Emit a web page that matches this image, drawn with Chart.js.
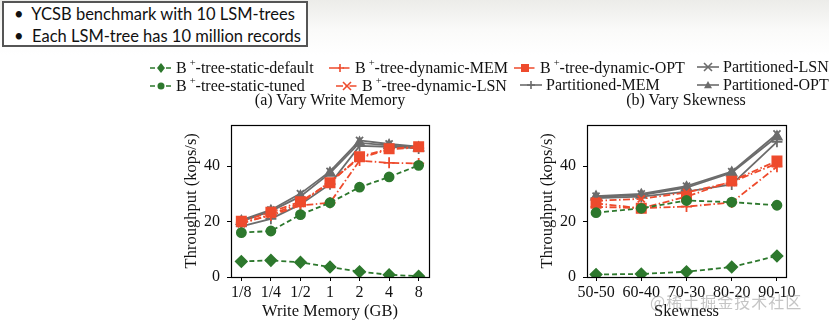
<!DOCTYPE html>
<html>
<head>
  <meta charset="utf-8">
  <title>LSM-tree throughput</title>
  <script src="https://cdn.jsdelivr.net/npm/chart.js"></script>
  <style>
    body { margin: 0; width: 829px; height: 323px; overflow: hidden; position: relative;
           background: linear-gradient(#ecece9 0px, #fafaf9 30px, #ffffff 55px); font-family: 'Liberation Serif', serif; }
    .note { position: absolute; left: 2px; top: 1px; width: 292px; height: 42px; border: 2px solid #555;
            background: #fff; font-family: Lato, 'Open Sans', sans-serif; font-size: 16.5px; color: #111; line-height: 22px; padding: 0 0 0 10px; }
    .leg { position: absolute; font-size: 16px; color: #111; white-space: nowrap; display: flex; align-items: center; }
    .leg canvas { margin-right: 4px; }
    .leg sup { font-size: 10.5px; margin-left: 3px; position: relative; top: -1px; }
    .sub { position: absolute; top: 91px; font-size: 16px; color: #111; text-align: center; width: 220px; }
    canvas.plot { position: absolute; }
    .mark { position: absolute; left: 650px; top: 289px; font-family: 'Noto Sans CJK SC', sans-serif; font-size: 16px;
            color: rgba(140,140,140,0.5); letter-spacing: 1px; }
  </style>
</head>
<body>
  <div class="note">•&nbsp; YCSB benchmark with 10 LSM-trees<br>•&nbsp; Each LSM-tree has 10 million records</div>
  <div id="legend"></div>
  <div class="sub" style="left:220px">(a) Vary Write Memory</div>
  <div class="sub" style="left:576px">(b) Vary Skewness</div>
  <canvas class="plot" id="memChart" width="270" height="215" style="left:170px;top:108px"></canvas>
  <canvas class="plot" id="skewChart" width="270" height="215" style="left:530px;top:108px"></canvas>
  <div class="mark">@稀土掘金技术社区</div>
  <script>
    // x categories
    const memLabels = ['1/8', '1/4', '1/2', '1', '2', '4', '8'];
    const skewLabels = ['50-50', '60-40', '70-30', '80-20', '90-10'];
    const yTicks = [0, 20, 40];

    // throughput (kops/s) while varying write memory
    const staticDefaultMem = [5.6, 6.0, 5.3, 3.6, 1.9, 0.8, 0.3];
    const staticTunedMem   = [16.0, 16.6, 22.5, 26.8, 32.4, 36.1, 40.3];
    const dynMemMem        = [19.6, 22.2, 25.8, 26.8, 42.0, 41.2, 41.0];
    const dynLsnMem        = [19.2, 22.6, 26.6, 34.4, 43.0, 46.0, 46.8];
    const dynOptMem        = [20.1, 23.4, 27.2, 34.0, 43.4, 46.3, 47.0];
    const partMemMem       = [18.3, 21.0, 26.2, 33.5, 47.3, 47.0, 46.4];
    const partLsnMem       = [20.5, 24.2, 30.1, 38.1, 49.3, 48.0, 47.0];
    const partOptMem       = [20.1, 23.8, 29.1, 37.5, 48.4, 47.5, 46.6];

    // throughput (kops/s) while varying skewness
    const staticDefaultSkew = [0.9, 1.1, 1.9, 3.6, 7.6];
    const staticTunedSkew   = [23.2, 24.8, 27.6, 27.0, 25.9];
    const dynMemSkew        = [25.3, 24.9, 25.4, 26.9, 39.8];
    const dynLsnSkew        = [27.5, 28.2, 30.5, 34.2, 41.0];
    const dynOptSkew        = [26.6, 24.8, 29.0, 34.6, 41.9];
    const partMemSkew       = [28.5, 29.0, 30.8, 33.4, 48.8];
    const partLsnSkew       = [29.2, 30.0, 32.8, 38.0, 51.6];
    const partOptSkew       = [28.9, 29.6, 32.3, 37.6, 50.6];

    const GREEN = '#2d782d', RED = '#ee4b2d', GRAY = '#6c6c6c';
    const DASH = [5, 3], DASHDOT = [7, 2.5, 1.5, 2.5];

    const styles = [
      { name: 'static-default', plus: true, color: GREEN, dash: DASH, point: 'rectRot', r: 5.5 },
      { name: 'static-tuned', plus: true, color: GREEN, dash: DASH, point: 'circle', r: 4.5 },
      { name: 'dynamic-MEM', plus: true, color: RED, dash: DASHDOT, point: 'cross', r: 5.5 },
      { name: 'dynamic-LSN', plus: true, color: RED, dash: DASHDOT, point: 'crossRot', r: 5 },
      { name: 'dynamic-OPT', plus: true, color: RED, dash: DASHDOT, point: 'rect', r: 6.5 },
      { name: 'Partitioned-MEM', plus: false, color: GRAY, dash: [], point: 'cross', r: 5.5 },
      { name: 'Partitioned-LSN', plus: false, color: GRAY, dash: [], point: 'crossRot', r: 5 },
      { name: 'Partitioned-OPT', plus: false, color: GRAY, dash: [], point: 'triangle', r: 5.5 }
    ];

    function makeSets(series) {
      return series.map((vals, k) => {
        const s = styles[k];
        return {
          label: s.name,
          data: vals.map((v, i) => ({ x: i, y: v })),
          borderColor: s.color,
          backgroundColor: s.color,
          pointBackgroundColor: s.color,
          pointBorderColor: s.color,
          pointStyle: s.point,
          pointRadius: s.r,
          pointBorderWidth: 1.8,
          borderWidth: 1.8,
          borderDash: s.dash,
          tension: 0
        };
      });
    }

    // matplotlib-like box around the plot area
    const frame = {
      id: 'frame',
      afterDraw(chart) {
        const a = chart.chartArea, ctx = chart.ctx;
        ctx.save();
        ctx.strokeStyle = '#000';
        ctx.lineWidth = 1.2;
        ctx.strokeRect(Math.round(a.left) + 0.5, Math.round(a.top) + 0.5,
                       Math.round(a.right - a.left), Math.round(a.bottom - a.top));
        ctx.restore();
      }
    };

    const font = { family: 'Liberation Serif', size: 16 };

    function makeChart(id, labels, series, xTitle, opts) {
      return new Chart(document.getElementById(id), {
        type: 'line',
        data: { datasets: makeSets(series) },
        plugins: [frame],
        options: {
          responsive: false,
          animation: false,
          layout: { padding: { top: 7, right: opts.right, left: 0, bottom: 0 } },
          plugins: { legend: { display: false }, tooltip: { enabled: false } },
          scales: {
            x: {
              type: 'linear',
              min: -opts.margin, max: labels.length - 1 + opts.margin,
              afterBuildTicks: s => { s.ticks = labels.map((_, i) => ({ value: i })); },
              afterFit: s => { s.height = 46; },
              ticks: { color: '#111', font, padding: 2, maxRotation: 0, autoSkip: false,
                       callback: v => labels[Math.round(v)] },
              grid: { drawOnChartArea: false, tickLength: 4, color: '#000' },
              border: { display: false },
              title: { display: true, text: xTitle, color: '#111', font: { family: 'Liberation Serif', size: 16.5 },
                       padding: { top: 0, bottom: 1 } }
            },
            y: {
              min: 0, max: 55,
              afterBuildTicks: s => { s.ticks = yTicks.map(v => ({ value: v })); },
              afterFit: s => { s.width = opts.yWidth; },
              ticks: { color: '#111', font, padding: 7 },
              grid: { drawOnChartArea: false, tickLength: 4, color: '#000' },
              border: { display: false },
              title: { display: true, text: 'Throughput (kops/s)', color: '#111',
                       font: { family: 'Liberation Serif', size: 16.5 }, padding: { top: opts.titlePad, bottom: 0 } }
            }
          }
        }
      });
    }

    makeChart('memChart', memLabels,
      [staticDefaultMem, staticTunedMem, dynMemMem, dynLsnMem, dynOptMem, partMemMem, partLsnMem, partOptMem],
      'Write Memory (GB)', { right: 11, yWidth: 61, margin: 0.35, titlePad: 12 });
    makeChart('skewChart', skewLabels,
      [staticDefaultSkew, staticTunedSkew, dynMemSkew, dynLsnSkew, dynOptSkew, partMemSkew, partLsnSkew, partOptSkew],
      'Skewness', { right: 14, yWidth: 57, margin: 0.2, titlePad: 8 });

    // legend: 4 columns x 2 rows spanning both panels
    const legendPos = [
      [150, 58], [150, 76], [329, 58], [336, 76], [514, 58], [520, 76], [697, 58], [697, 76]
    ];
    function drawSample(cv, s) {
      const c = cv.getContext('2d');
      c.strokeStyle = s.color; c.fillStyle = s.color; c.lineWidth = 1.6;
      c.setLineDash(s.dash);
      c.beginPath(); c.moveTo(0, 7); c.lineTo(22, 7); c.stroke();
      c.setLineDash([]);
      const x = 11, y = 7, r = 4;
      c.beginPath();
      if (s.point === 'circle') { c.arc(x, y, r - 0.5, 0, Math.PI * 2); c.fill(); }
      else if (s.point === 'rect') { c.fillRect(x - r, y - r, 2 * r, 2 * r); }
      else if (s.point === 'rectRot') { c.moveTo(x, y - r - 1); c.lineTo(x + r, y); c.lineTo(x, y + r + 1); c.lineTo(x - r, y); c.fill(); }
      else if (s.point === 'triangle') { c.moveTo(x, y - r); c.lineTo(x + r, y + r * 0.8); c.lineTo(x - r, y + r * 0.8); c.fill(); }
      else if (s.point === 'cross') { c.moveTo(x - r, y); c.lineTo(x + r, y); c.moveTo(x, y - r); c.lineTo(x, y + r); c.stroke(); }
      else { c.moveTo(x - r, y - r); c.lineTo(x + r, y + r); c.moveTo(x + r, y - r); c.lineTo(x - r, y + r); c.stroke(); }
    }
    const legend = document.getElementById('legend');
    styles.forEach((s, k) => {
      const item = document.createElement('div');
      item.className = 'leg';
      item.style.left = legendPos[k][0] + 'px';
      item.style.top = legendPos[k][1] + 'px';
      const cv = document.createElement('canvas');
      cv.width = 22; cv.height = 14;
      drawSample(cv, s);
      item.appendChild(cv);
      const t = document.createElement('span');
      t.innerHTML = s.plus ? 'B<sup>+</sup>-tree-' + s.name : s.name;
      item.appendChild(t);
      legend.appendChild(item);
    });
  </script>
</body>
</html>
